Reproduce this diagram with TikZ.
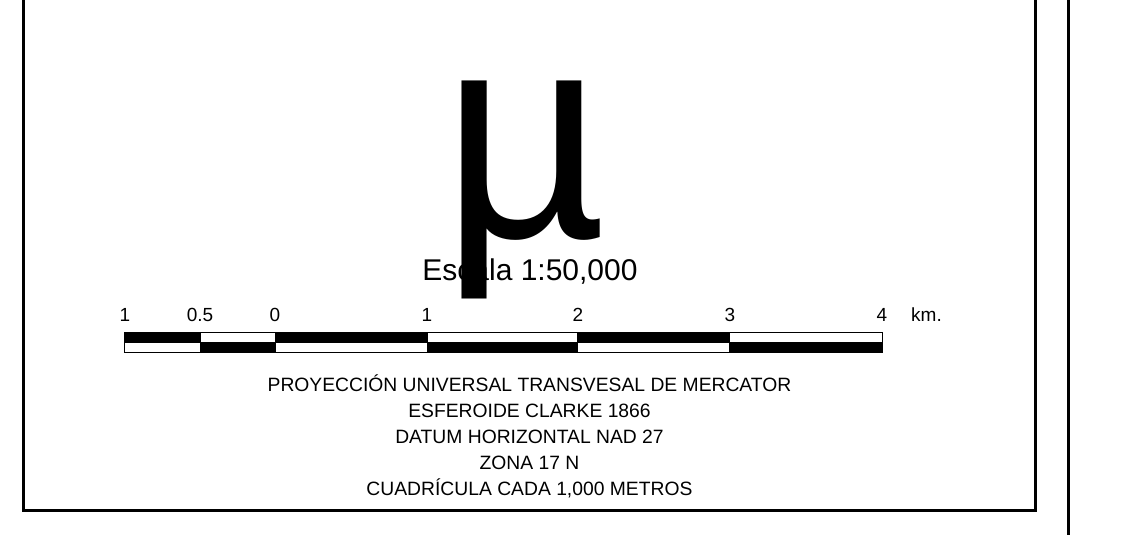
\documentclass[tikz,border=0pt]{standalone}
\usepackage{fontspec}
\setmainfont{Liberation Sans}
\tikzset{
    every node/.style={inner sep=0mm, anchor=base},
    kmlabel/.style={font=\fontsize{19}{19}\selectfont},
    notetext/.style={font=\fontsize{19.3}{19.3}\selectfont},
    mapframe/.style={line width=3pt},
    blackcell/.style={fill=black, draw=black, line width=0.8pt},
    whitecell/.style={fill=white, draw=black, line width=0.8pt}
}

\begin{document}
\begin{tikzpicture}[x=1pt, y=-1pt]
    \useasboundingbox (0,0) rectangle (1124,535);

    % marco
    \draw[mapframe] (23.5,-3) -- (23.5,510) -- (1035.5,510) -- (1035.5,-3);
    \draw[mapframe] (1068.5,-3) -- (1068.5,538);

    % flecha norte
    \node (norte) [font=\fontsize{285}{285}\selectfont, yscale=1.04] at (525,237) {µ};
    \node (escala) [font=\fontsize{30}{30}\selectfont] at (530,280) {Escala 1:50,000};

    % barra de escala
    \draw[blackcell] (124,332) rectangle (200,342);
    \draw[whitecell] (200,332) rectangle (275,342);
    \draw[blackcell] (275,332) rectangle (427,342);
    \draw[whitecell] (427,332) rectangle (577,342);
    \draw[blackcell] (577,332) rectangle (729,342);
    \draw[whitecell] (729,332) rectangle (882,342);

    \draw[whitecell] (124,342) rectangle (200,352.5);
    \draw[blackcell] (200,342) rectangle (275,352.5);
    \draw[whitecell] (275,342) rectangle (427,352.5);
    \draw[blackcell] (427,342) rectangle (577,352.5);
    \draw[whitecell] (577,342) rectangle (729,352.5);
    \draw[blackcell] (729,342) rectangle (882,352.5);

    \node (k1) [kmlabel] at (125,321) {1};
    \node (k05) [kmlabel] at (200,321) {0.5};
    \node (k0) [kmlabel] at (275,321) {0};
    \node (kp1) [kmlabel] at (427,321) {1};
    \node (kp2) [kmlabel] at (578,321) {2};
    \node (kp3) [kmlabel] at (730,321) {3};
    \node (kp4) [kmlabel] at (882,321) {4};
    \node (km) [kmlabel, anchor=base west] at (911,321) {km.};

    % datos de proyeccion
    \node (proy) [notetext] at (529.5,391) {PROYECCIÓN UNIVERSAL TRANSVESAL DE MERCATOR};
    \node (esf) [notetext] at (529.5,417) {ESFEROIDE CLARKE 1866};
    \node (datum) [notetext] at (529.5,443) {DATUM HORIZONTAL NAD 27};
    \node (zona) [notetext] at (529.5,469) {ZONA 17 N};
    \node (cuad) [notetext] at (529.5,495) {CUADRÍCULA CADA 1,000 METROS};
\end{tikzpicture}
\end{document}
